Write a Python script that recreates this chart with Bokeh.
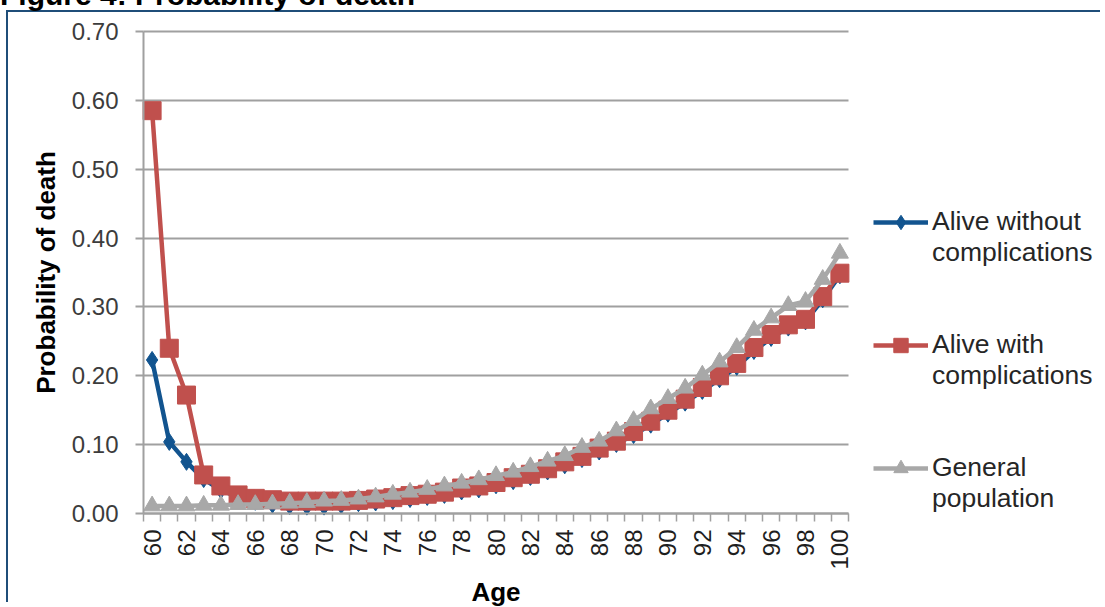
import math
from bokeh.plotting import figure
from bokeh.layouts import column
from bokeh.models import (Range1d, FixedTicker, NumeralTickFormatter, Legend,
                          LegendItem, Div, Label, Grid)
from bokeh.embed import file_html
from bokeh.resources import INLINE

# ---------------- data ----------------
ages = list(range(60, 101))

alive_without_complications = [
    0.223, 0.104, 0.075, 0.050, 0.034, 0.024, 0.017, 0.013, 0.011, 0.010,
    0.010, 0.012, 0.015, 0.016, 0.018, 0.021, 0.024, 0.027, 0.032, 0.035,
    0.041, 0.047, 0.053, 0.061, 0.070, 0.079, 0.090, 0.101, 0.114, 0.129,
    0.145, 0.161, 0.178, 0.195, 0.213, 0.236, 0.255, 0.270, 0.279, 0.311,
    0.346]

alive_with_complications = [
    0.585, 0.240, 0.172, 0.056, 0.040, 0.027, 0.022, 0.020, 0.018, 0.018,
    0.018, 0.018, 0.019, 0.021, 0.023, 0.026, 0.028, 0.031, 0.037, 0.040,
    0.045, 0.052, 0.057, 0.065, 0.075, 0.083, 0.095, 0.105, 0.119, 0.134,
    0.150, 0.166, 0.183, 0.200, 0.218, 0.241, 0.260, 0.274, 0.282, 0.315,
    0.349]

general_population = [
    0.011, 0.011, 0.011, 0.012, 0.012, 0.013, 0.013, 0.014, 0.015, 0.016,
    0.018, 0.019, 0.021, 0.024, 0.028, 0.031, 0.035, 0.040, 0.044, 0.049,
    0.055, 0.060, 0.068, 0.076, 0.084, 0.096, 0.105, 0.120, 0.135, 0.152,
    0.167, 0.182, 0.201, 0.220, 0.241, 0.266, 0.284, 0.302, 0.308, 0.340,
    0.378]

x_tick_labels = list(range(60, 101, 2))
y_ticks = [0.0, 0.1, 0.2, 0.3, 0.4, 0.5, 0.6, 0.7]

series_names = ["Alive without\ncomplications", "Alive with\ncomplications",
                "General\npopulation"]
title_text = "Figure 4: Probability of death"
x_title = "Age"
y_title = "Probability of death"

# ---------------- layout geometry (pixels) ----------------
W, H = 1105, 607
AREA_L, AREA_R, AREA_T, AREA_B = 143, 848, 31, 513   # plotting area

FONT = "Liberation Sans"
BLUE = "#12548F"
RED = "#C0504D"
GRAY = "#A8A8A8"
AXIS_GRAY = "#A0A0A0"

x_lo, x_hi = ages[0] - 0.5, ages[-1] + 0.5
y_lo, y_hi = y_ticks[0], y_ticks[-1]
px_per_age = (AREA_R - AREA_L) / (x_hi - x_lo)
px_per_unit = (AREA_B - AREA_T) / (y_hi - y_lo)
x_start = x_lo - AREA_L / px_per_age
x_end = x_lo + (W - AREA_L) / px_per_age
y_start = y_lo - (H - AREA_B) / px_per_unit
y_end = y_hi + AREA_T / px_per_unit

# the frame covers the whole canvas; axes are pinned at the data origin
p = figure(width=W, height=H, output_backend="svg", toolbar_location=None,
           x_range=Range1d(x_start, x_end), y_range=Range1d(y_start, y_end),
           min_border_left=0, min_border_right=0, min_border_top=0,
           min_border_bottom=0)
p.outline_line_color = None
p.background_fill_color = "white"
p.border_fill_color = "white"

# grid lines limited to the plotting area
p.xgrid.visible = False
if "cross_bounds" in Grid.properties():
    p.ygrid.ticker = FixedTicker(ticks=y_ticks)
    p.ygrid.cross_bounds = (x_lo, x_hi)
    p.ygrid.grid_line_color = AXIS_GRAY
    p.ygrid.grid_line_width = 2
else:
    p.ygrid.visible = False
    p.segment(x0=[x_lo] * len(y_ticks), x1=[x_hi] * len(y_ticks),
              y0=y_ticks, y1=y_ticks, line_color=AXIS_GRAY, line_width=2)

# x axis (at y = 0)
boundaries = [a - 0.5 for a in ages] + [ages[-1] + 0.5]
p.xaxis.fixed_location = y_lo
p.xaxis.bounds = (x_lo, x_hi)
p.xaxis.ticker = FixedTicker(ticks=x_tick_labels, minor_ticks=boundaries)
p.xaxis.axis_line_color = AXIS_GRAY
p.xaxis.axis_line_width = 2
p.xaxis.major_tick_line_color = None
p.xaxis.major_tick_out = 0
p.xaxis.major_tick_in = 0
p.xaxis.minor_tick_line_color = AXIS_GRAY
p.xaxis.minor_tick_line_width = 1.5
p.xaxis.minor_tick_out = 8
p.xaxis.minor_tick_in = 0
p.xaxis.major_label_orientation = math.pi / 2
p.xaxis.major_label_text_font = FONT
p.xaxis.major_label_text_font_size = "24px"
p.xaxis.major_label_text_color = "#1E1E1E"
p.xaxis.major_label_standoff = 8

# y axis (at the first category edge)
p.yaxis.fixed_location = x_lo
p.yaxis.bounds = (y_lo, y_hi)
p.yaxis.ticker = FixedTicker(ticks=y_ticks)
p.yaxis.formatter = NumeralTickFormatter(format="0.00")
p.yaxis.axis_line_color = AXIS_GRAY
p.yaxis.axis_line_width = 2
p.yaxis.major_tick_line_color = AXIS_GRAY
p.yaxis.major_tick_line_width = 2
p.yaxis.major_tick_out = 8
p.yaxis.major_tick_in = 0
p.yaxis.minor_tick_line_color = None
p.yaxis.major_label_text_font = FONT
p.yaxis.major_label_text_font_size = "24px"
p.yaxis.major_label_text_color = "#3C3C3C"
p.yaxis.major_label_standoff = 17

# axis titles
p.add_layout(Label(x=(x_lo + x_hi) / 2, y=H - 591, x_units="data",
                   y_units="screen", text=x_title, text_font=FONT,
                   text_font_style="bold", text_font_size="26px",
                   text_color="#000000", text_align="center",
                   text_baseline="middle"))
p.add_layout(Label(x=45, y=(y_lo + y_hi) / 2, x_units="screen",
                   y_units="data", angle=math.pi / 2, text=y_title,
                   text_font=FONT, text_font_style="bold",
                   text_font_size="26px", text_color="#000000",
                   text_align="center", text_baseline="middle"))

# ---------------- series ----------------
lb = p.line(ages, alive_without_complications, line_color=BLUE, line_width=4.5)
sb = p.scatter(ages, alive_without_complications, marker="diamond",
               size=17, fill_color=BLUE, line_color=BLUE)
lr = p.line(ages, alive_with_complications, line_color=RED, line_width=4.5)
sr = p.scatter(ages, alive_with_complications, marker="square", size=18,
               fill_color=RED, line_color=RED)
lg = p.line(ages, general_population, line_color=GRAY, line_width=4.5)
sg = p.scatter(ages, general_population, marker="triangle", size=17,
               fill_color=GRAY, line_color=GRAY)

# legend: leading blank line keeps the key glyph level with the first line
legend = Legend(items=[
    LegendItem(label="\n" + series_names[0], renderers=[lb, sb]),
    LegendItem(label="\n" + series_names[1], renderers=[lr, sr]),
    LegendItem(label="\n" + series_names[2], renderers=[lg, sg]),
], location=(873, H - 514))
legend.background_fill_alpha = 0
legend.border_line_color = None
legend.padding = 0
legend.margin = 0
legend.spacing = 30
legend.glyph_width = 55
legend.glyph_height = 36
legend.label_standoff = 4
legend.label_text_font = FONT
legend.label_text_font_size = "26.5px"
legend.label_text_color = "#262626"
legend.label_text_line_height = 1.28
p.add_layout(legend, "center")

# outer chart box (left/top border) with the title cut by the top edge
title_html = ('<span style="position:absolute; left:-8px; top:-33px; '
              'white-space:nowrap; font-family:\'Liberation Sans\'; '
              'font-size:30px; font-weight:bold; line-height:32px; '
              'color:#000000;">' + title_text + '</span>')
frame_div = Div(text=title_html, width=1094, height=592,
                styles={"position": "absolute", "left": "1px", "top": "5px",
                        "border-left": "2px solid #1F4E79",
                        "border-top": "2px solid #1F4E79",
                        "background": "transparent",
                        "pointer-events": "none", "overflow": "visible"})

layout = column(p, frame_div)
open("out.html", "w").write(file_html(layout, INLINE))
